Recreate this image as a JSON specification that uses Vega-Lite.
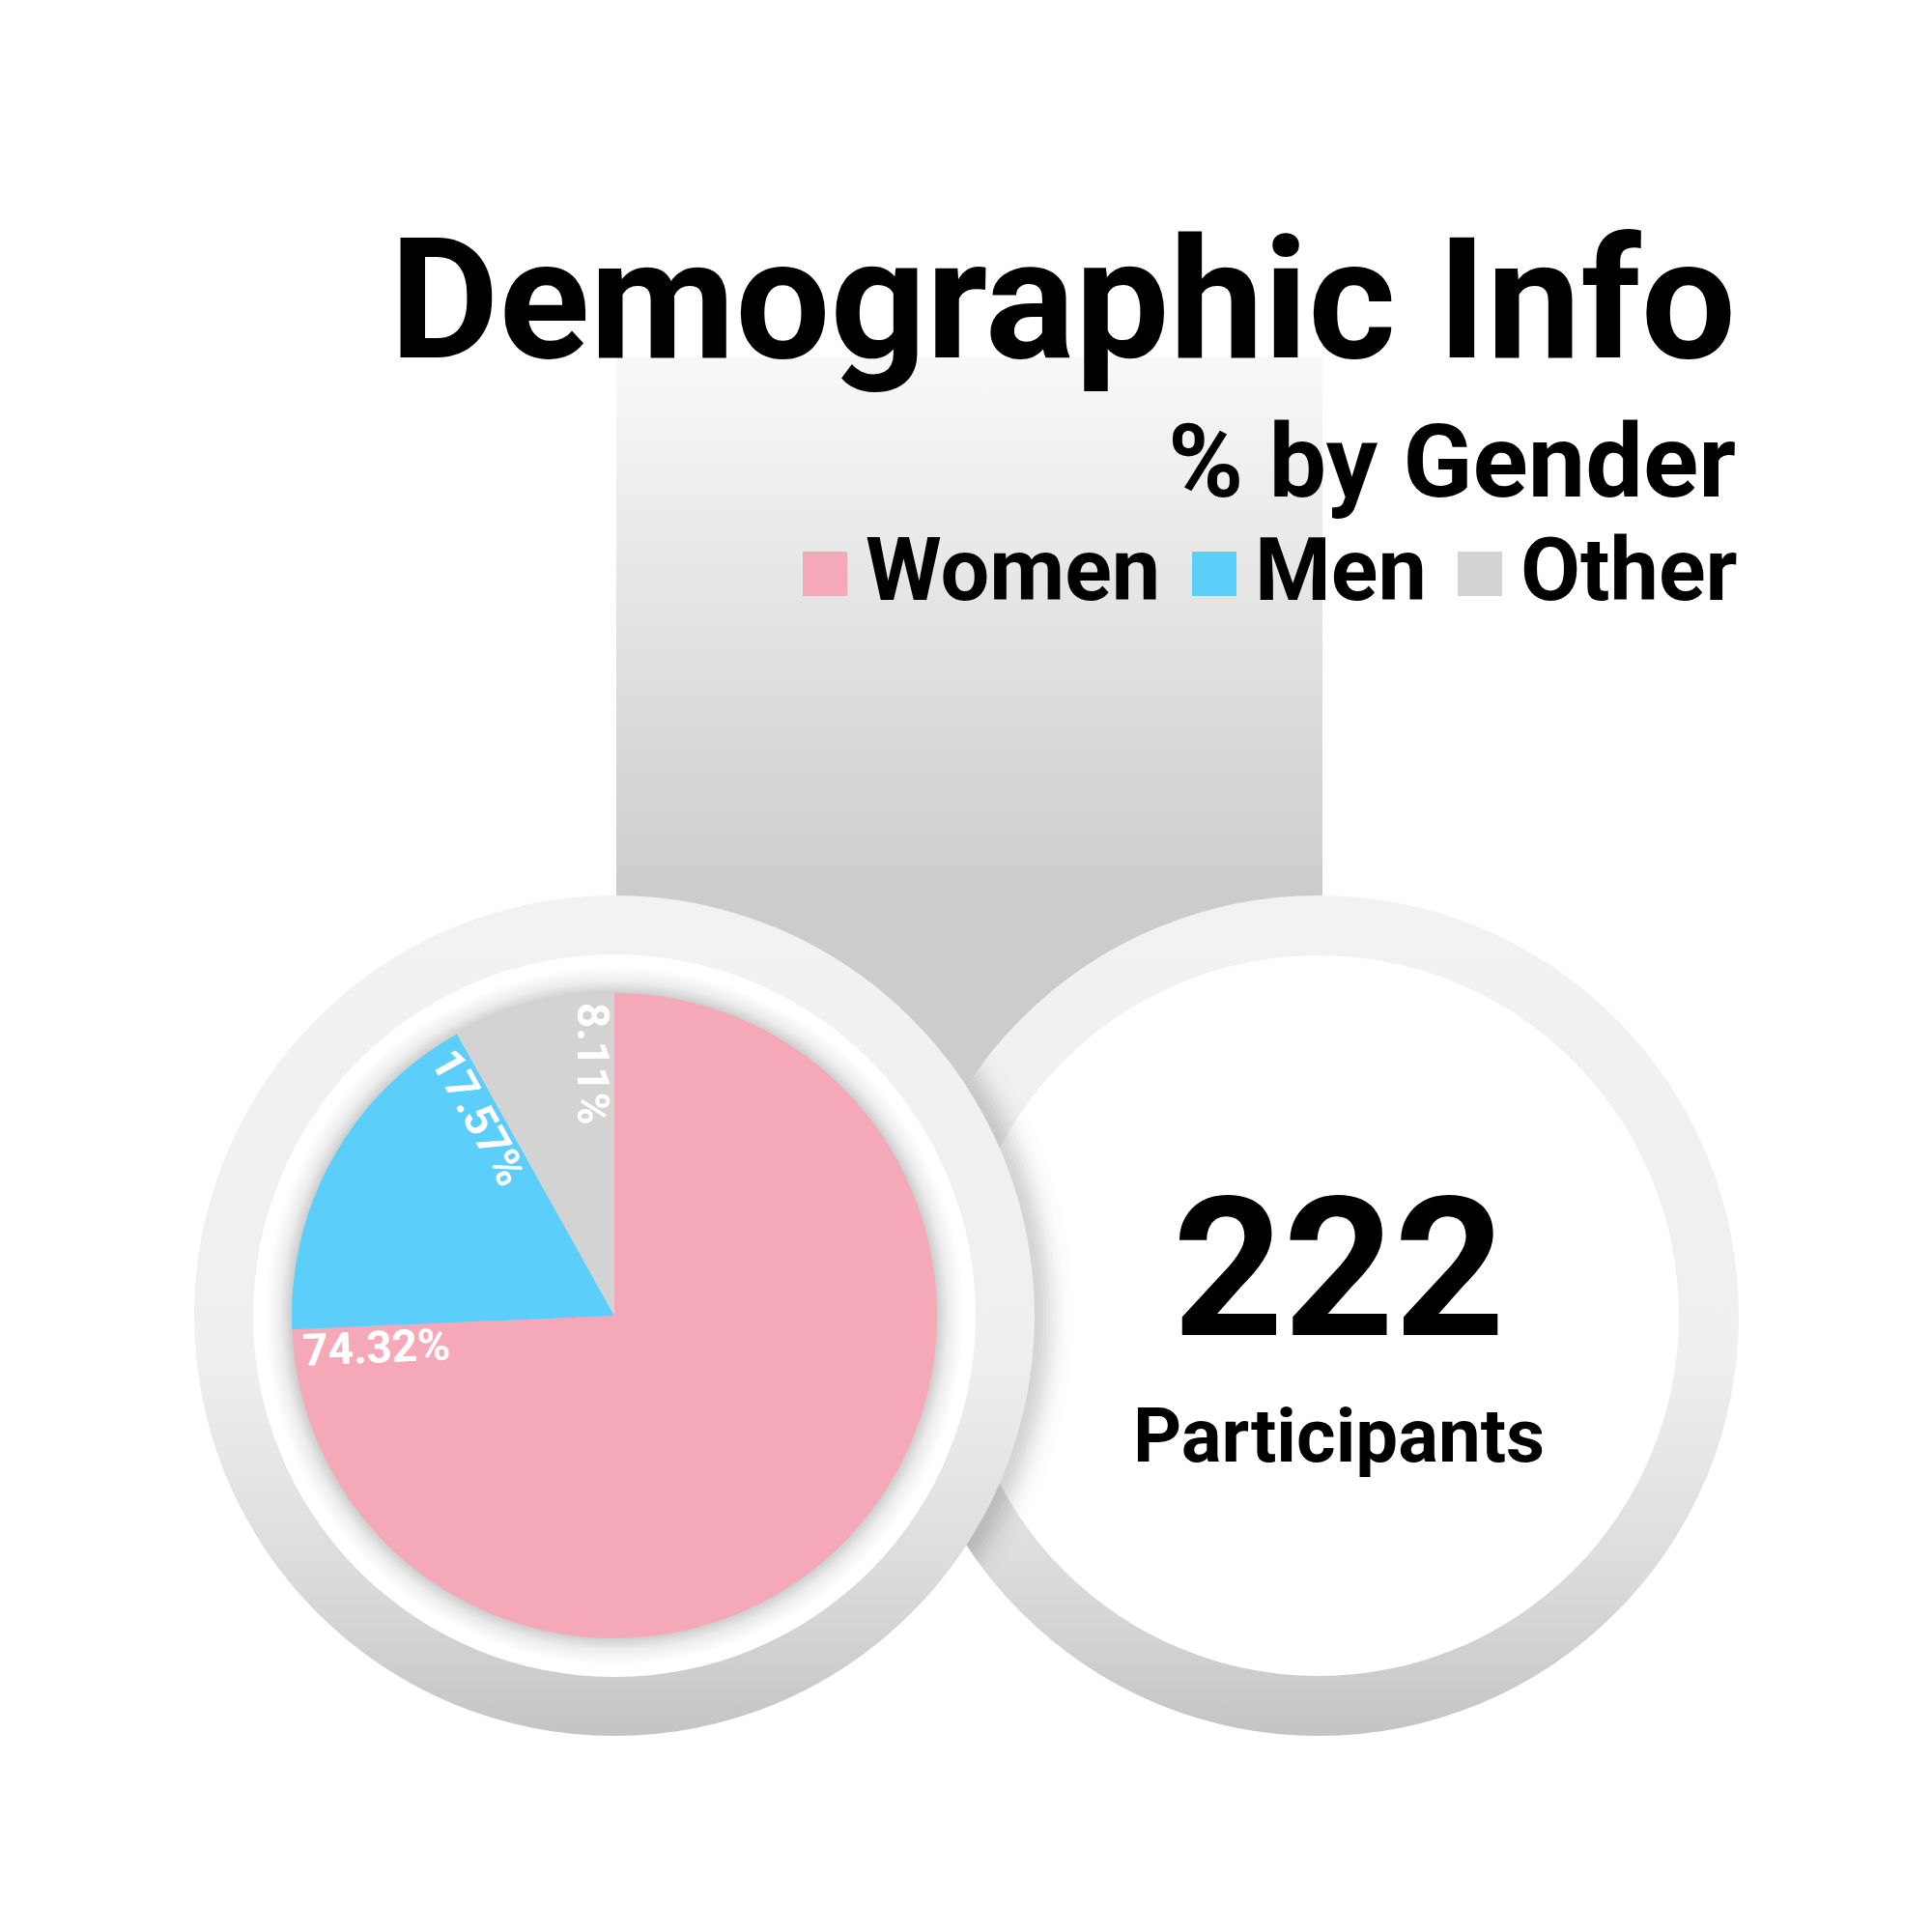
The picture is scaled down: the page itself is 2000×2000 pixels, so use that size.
{
  "$schema": "https://vega.github.io/schema/vega-lite/v6.json",
  "width": 2000,
  "height": 2000,
  "autosize": {"type": "fit", "contains": "padding"},
  "padding": 0,
  "background": "white",
  "config": {"view": {"stroke": null}, "font": "Roboto"},
  "datasets": {
    "gender": [
      {"gender": "Women", "count": 165, "share": 0.7432},
      {"gender": "Men", "count": 39, "share": 0.1757},
      {"gender": "Other", "count": 18, "share": 0.0811}
    ],
    "summary": [{"participants": 222, "label": "Participants"}],
    "one": [{}]
  },
  "encoding": {
    "x": {"datum": 31.8, "type": "quantitative", "scale": {"domain": [0, 100]}, "axis": null},
    "y": {"datum": 68.1, "type": "quantitative", "scale": {"domain": [0, 100], "reverse": true}, "axis": null}
  },
  "layer": [
    {
      "data": {"name": "one"},
      "mark": {"type": "rect", "fill": {"gradient": "linear", "x1": 0, "y1": 0, "x2": 0, "y2": 1, "stops": [{"offset": 0, "color": "#f8f8f8"}, {"offset": 0.53, "color": "#cfcfcf"}, {"offset": 0.535, "color": "#cccccc"}, {"offset": 1, "color": "#cccccc"}]}},
      "encoding": {
        "x": {"datum": 31.9, "type": "quantitative", "scale": {"domain": [0, 100]}, "axis": null},
        "x2": {"datum": 68.45},
        "y": {"datum": 18.5, "type": "quantitative", "scale": {"domain": [0, 100], "reverse": true}, "axis": null},
        "y2": {"datum": 68.1}
      }
    },
    {
      "data": {"name": "one"},
      "mark": {"type": "arc", "outerRadius": 435, "theta": 0, "theta2": 6.2832, "fill": {"gradient": "linear", "x1": 0, "y1": 0, "x2": 0, "y2": 1, "stops": [{"offset": 0, "color": "#f2f2f2"}, {"offset": 0.55, "color": "#efefef"}, {"offset": 0.8, "color": "#dcdcdc"}, {"offset": 1, "color": "#c4c4c4"}]}},
      "encoding": {"x": {"datum": 68.25, "type": "quantitative"}}
    },
    {
      "data": {"name": "one"},
      "mark": {"type": "arc", "outerRadius": 373, "theta": 0, "theta2": 6.2832, "fill": "#ffffff"},
      "encoding": {"x": {"datum": 68.25, "type": "quantitative"}}
    },
    {"data": {"name": "one"}, "mark": {"type": "arc", "innerRadius": 434, "outerRadius": 437.5, "theta": 0.99274, "theta2": 2.14885, "fill": "#000000", "fillOpacity": 0.169}},
    {"data": {"name": "one"}, "mark": {"type": "arc", "innerRadius": 437.5, "outerRadius": 441, "theta": 0.98925, "theta2": 2.15234, "fill": "#000000", "fillOpacity": 0.161}},
    {"data": {"name": "one"}, "mark": {"type": "arc", "innerRadius": 441, "outerRadius": 444.5, "theta": 0.98593, "theta2": 2.15566, "fill": "#000000", "fillOpacity": 0.145}},
    {"data": {"name": "one"}, "mark": {"type": "arc", "innerRadius": 444.5, "outerRadius": 448, "theta": 0.98262, "theta2": 2.15897, "fill": "#000000", "fillOpacity": 0.125}},
    {"data": {"name": "one"}, "mark": {"type": "arc", "innerRadius": 448, "outerRadius": 451.5, "theta": 0.97948, "theta2": 2.16211, "fill": "#000000", "fillOpacity": 0.102}},
    {"data": {"name": "one"}, "mark": {"type": "arc", "innerRadius": 451.5, "outerRadius": 455, "theta": 0.97651, "theta2": 2.16508, "fill": "#000000", "fillOpacity": 0.079}},
    {"data": {"name": "one"}, "mark": {"type": "arc", "innerRadius": 455, "outerRadius": 458.5, "theta": 0.97372, "theta2": 2.16787, "fill": "#000000", "fillOpacity": 0.058}},
    {"data": {"name": "one"}, "mark": {"type": "arc", "innerRadius": 458.5, "outerRadius": 462, "theta": 0.97093, "theta2": 2.17066, "fill": "#000000", "fillOpacity": 0.041}},
    {"data": {"name": "one"}, "mark": {"type": "arc", "innerRadius": 462, "outerRadius": 465.5, "theta": 0.96831, "theta2": 2.17328, "fill": "#000000", "fillOpacity": 0.027}},
    {"data": {"name": "one"}, "mark": {"type": "arc", "innerRadius": 465.5, "outerRadius": 469, "theta": 0.96569, "theta2": 2.1759, "fill": "#000000", "fillOpacity": 0.017}},
    {"data": {"name": "one"}, "mark": {"type": "arc", "innerRadius": 469, "outerRadius": 472.5, "theta": 0.96325, "theta2": 2.17834, "fill": "#000000", "fillOpacity": 0.01}},
    {"data": {"name": "one"}, "mark": {"type": "arc", "innerRadius": 472.5, "outerRadius": 476, "theta": 0.96098, "theta2": 2.18061, "fill": "#000000", "fillOpacity": 0.006}},
    {
      "data": {"name": "one"},
      "mark": {"type": "arc", "outerRadius": 435, "theta": 0, "theta2": 6.2832, "fill": {"gradient": "linear", "x1": 0, "y1": 0, "x2": 0, "y2": 1, "stops": [{"offset": 0, "color": "#f2f2f2"}, {"offset": 0.55, "color": "#efefef"}, {"offset": 0.8, "color": "#dcdcdc"}, {"offset": 1, "color": "#c4c4c4"}]}}
    },
    {
      "data": {"name": "one"},
      "mark": {"type": "arc", "outerRadius": 374, "theta": 0, "theta2": 6.2832, "fill": "#ffffff"}
    },
    {
      "data": {"name": "one"},
      "mark": {"type": "arc", "outerRadius": 362, "theta": 0, "theta2": 6.2832, "fill": {"gradient": "radial", "x1": 0.5, "y1": 0.5, "r1": 0, "x2": 0.5, "y2": 0.5, "r2": 0.5, "stops": [{"offset": 0, "color": "rgba(0,0,0,0.2)"}, {"offset": 0.92, "color": "rgba(0,0,0,0.2)"}, {"offset": 0.955, "color": "rgba(0,0,0,0.07)"}, {"offset": 1, "color": "rgba(0,0,0,0)"}]}}
    },
    {
      "data": {"name": "gender"},
      "mark": {"type": "arc", "outerRadius": 334},
      "encoding": {
        "theta": {"field": "count", "type": "quantitative", "stack": true, "scale": {"domain": [0, 222]}},
        "order": {"field": "count", "type": "quantitative", "sort": "descending"},
        "color": {
          "field": "gender", "type": "nominal",
          "scale": {"domain": ["Women", "Men", "Other"], "range": ["#F5A9B8", "#5BCEFA", "#D3D3D3"]},
          "legend": {
            "orient": "none", "legendX": 809, "legendY": 549, "direction": "horizontal", "columns": 3,
            "title": null, "padding": 0, "offset": 0,
            "symbolType": "square", "symbolSize": 2116, "symbolStrokeWidth": 0, "symbolOpacity": 1,
            "labelFont": "Roboto", "labelFontWeight": "bold", "labelFontSize": 90, "labelColor": "#000000",
            "labelOffset": -3, "columnPadding": 10, "labelLimit": 600
          }
        }
      }
    },
    {
      "data": {"name": "gender"},
      "transform": [{"window": [{"op": "sum", "field": "count", "as": "cum"}], "sort": [{"field": "count", "order": "descending"}]}],
      "mark": {"type": "text", "radius": 324, "align": "left", "baseline": "top", "dy": 2, "fontSize": 46, "font": "Roboto", "fontWeight": "bold", "color": "#ffffff"},
      "encoding": {
        "theta": {"field": "cum", "type": "quantitative", "stack": null, "scale": {"domain": [0, 222]}},
        "angle": {"field": "cum", "type": "quantitative", "scale": {"domain": [0, 222], "range": [90, 450]}},
        "text": {"field": "share", "type": "quantitative", "format": ".2%"}
      }
    },
    {
      "data": {"name": "one"},
      "mark": {"type": "text", "align": "right", "baseline": "alphabetic", "fontSize": 174, "font": "Roboto", "fontWeight": "bold", "color": "#000000"},
      "encoding": {
        "x": {"datum": 89.85, "type": "quantitative"},
        "y": {"datum": 18.5, "type": "quantitative"},
        "text": {"value": "Demographic Info"}
      }
    },
    {
      "data": {"name": "one"},
      "mark": {"type": "text", "align": "right", "baseline": "alphabetic", "fontSize": 106, "font": "Roboto", "fontWeight": "bold", "color": "#000000"},
      "encoding": {
        "x": {"datum": 89.85, "type": "quantitative"},
        "y": {"datum": 25.7, "type": "quantitative"},
        "text": {"value": "% by Gender"}
      }
    },
    {
      "data": {"name": "summary"},
      "mark": {"type": "text", "align": "center", "baseline": "alphabetic", "fontSize": 200, "font": "Roboto", "fontWeight": "bold", "color": "#000000"},
      "encoding": {
        "x": {"datum": 69.3, "type": "quantitative"},
        "y": {"datum": 69.1, "type": "quantitative"},
        "text": {"field": "participants", "type": "quantitative", "format": "d"}
      }
    },
    {
      "data": {"name": "summary"},
      "mark": {"type": "text", "align": "center", "baseline": "alphabetic", "fontSize": 78, "font": "Roboto", "fontWeight": "bold", "color": "#000000"},
      "encoding": {
        "x": {"datum": 69.3, "type": "quantitative"},
        "y": {"datum": 75.65, "type": "quantitative"},
        "text": {"field": "label", "type": "nominal"}
      }
    }
  ]
}
